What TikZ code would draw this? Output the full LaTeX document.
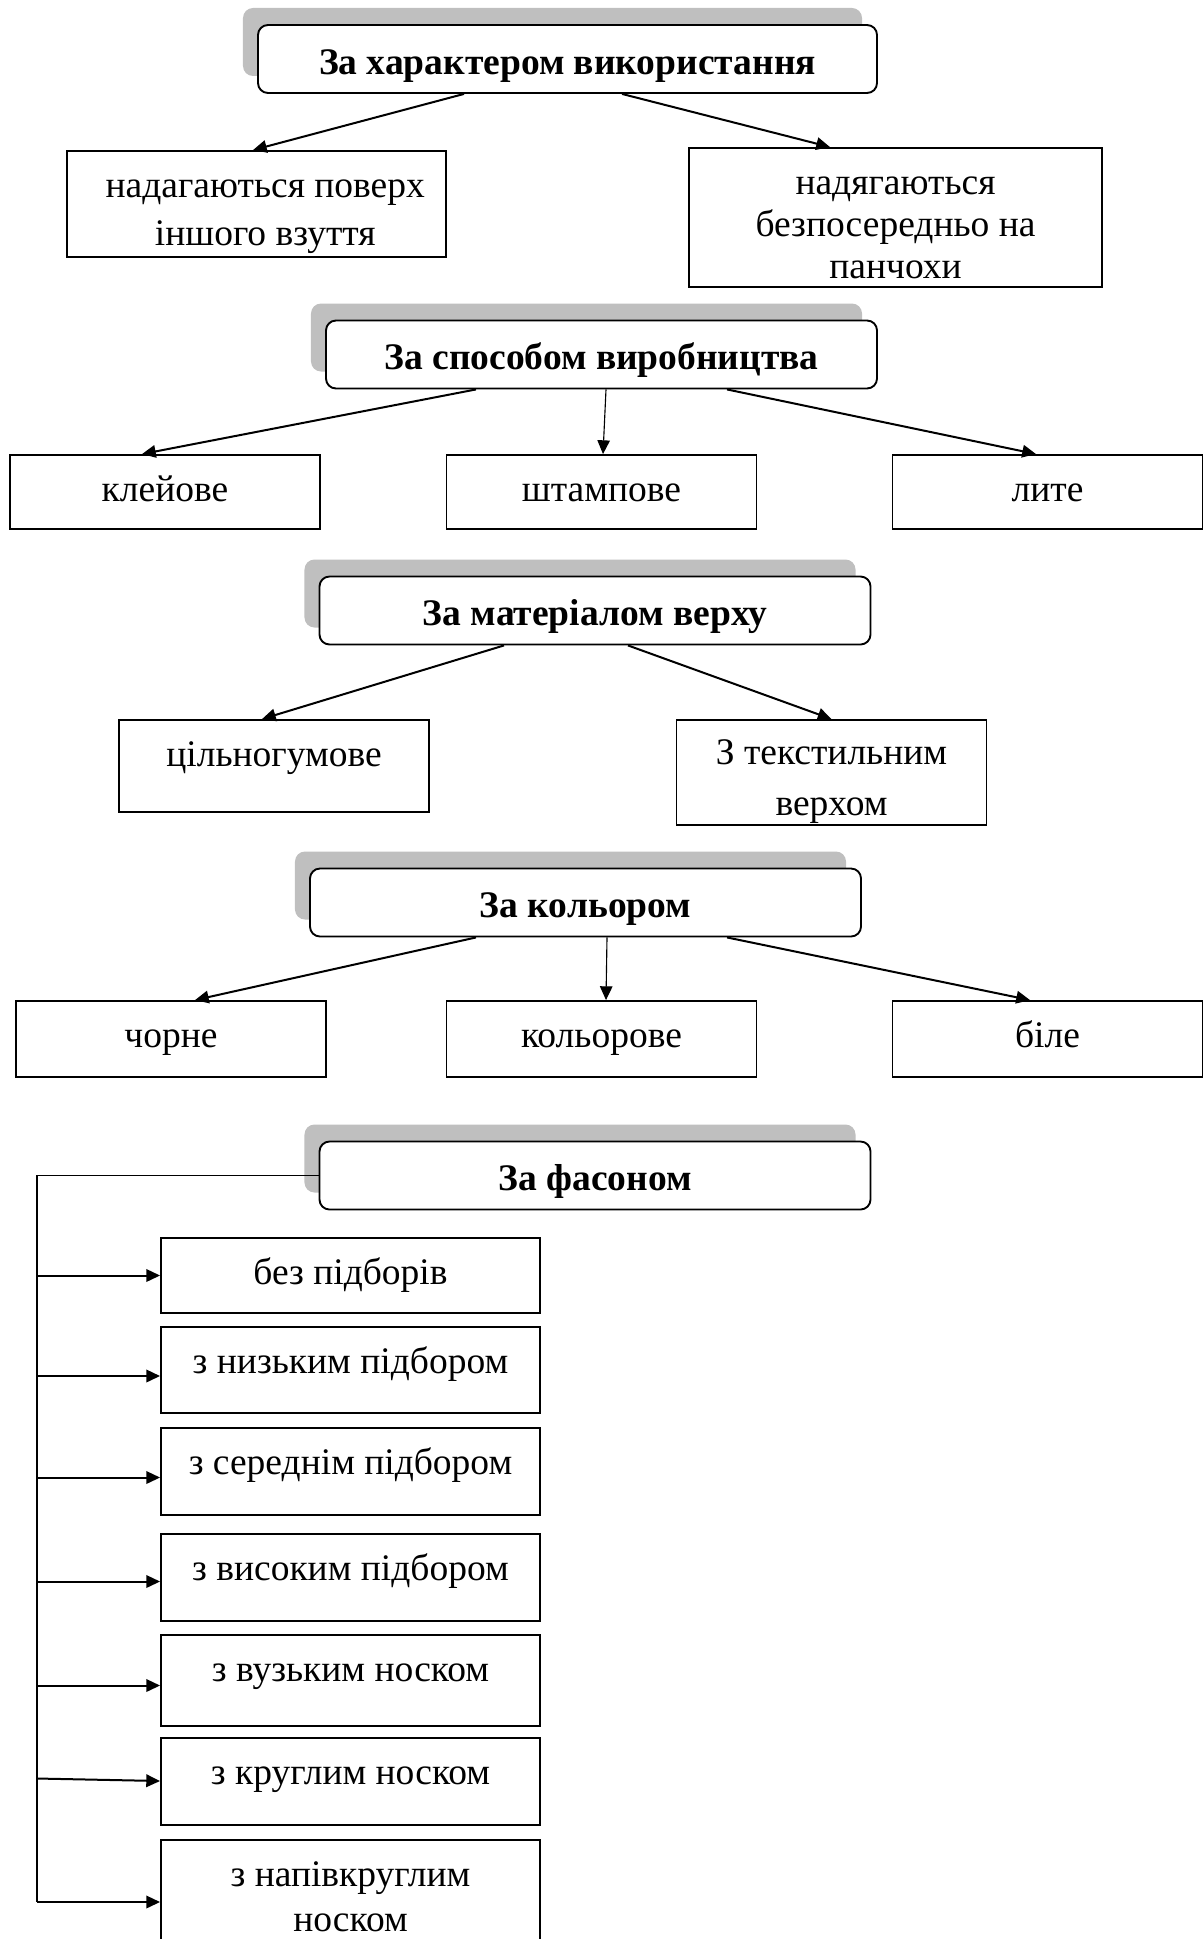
\documentclass[tikz,border=0pt]{standalone}
\usepackage{fontspec}
\setmainfont{Liberation Serif}
\usetikzlibrary{positioning, arrows.meta, shadows}

\begin{document}
\begin{tikzpicture}[
    x=0.4pt, y=-0.4pt,
    hblock/.style={rectangle, draw, rounded corners=4pt, fill=white, line width=0.75pt,
                   minimum width=220.4pt, inner ysep=0pt,
                   text height=19.7pt, text depth=7.5pt,
                   font=\fontsize{15}{18}\selectfont\bfseries,
                   drop shadow={shadow xshift=-6pt, shadow yshift=6.8pt,
                                fill=black!25, opacity=1}},
    block/.style={rectangle, draw, line width=0.75pt, fill=white,
                  minimum width=124pt, align=center, inner ysep=0pt,
                  text height=18.4pt, font=\fontsize{15}{18}\selectfont},
    arr/.style={-{Triangle[length=5.5pt, width=5pt]}, line width=0.8pt},
    tarr/.style={-{Triangle[length=5.5pt, width=5pt]}, line width=0.45pt},
]
\useasboundingbox (0,0) rectangle (1203,1939);

% за характером використання
\node[hblock, minimum width=247.6pt] (use) at (567.5,59) {За характером використання};
\node[block, minimum width=151.6pt, text height=37.7pt, text depth=4.7pt, font=\fontsize{15}{19.3}\selectfont] (over) at (256.5,204) {\hspace*{7pt}надагаються поверх\\\hspace*{7pt}іншого взуття};
\node[block, minimum width=165.2pt, text height=52pt, text depth=3.6pt, font=\fontsize{15}{16.8}\selectfont] (stock) at (895.5,217.5) {надягаються\\безпосередньо на\\панчохи};
\draw[arr] ([xshift=-41.4pt]use.south) -- ([xshift=-1.4pt]over.north);
\draw[arr] ([xshift=21.8pt]use.south) -- ([xshift=-26.2pt]stock.north);

% за способом виробництва
\node[hblock] (make) at (601.5,354.5) {За способом виробництва};
\node[block, text depth=11.2pt] (glue) at (165,492) {клейове};
\node[block, text depth=11.2pt] (stamp) at (601.5,492) {штампове};
\node[block, text depth=11.2pt] (cast) at (1047.5,492) {лите};
\draw[arr] ([xshift=-50.2pt]make.south) -- ([xshift=-9.2pt]glue.north);
\draw[tarr] ([xshift=1.8pt]make.south) -- ([xshift=0.6pt]stamp.north);
\draw[arr] ([xshift=50.2pt]make.south) -- ([xshift=-4.6pt]cast.north);

% за матеріалом верху
\node[hblock] (upper) at (595,610.5) {За матеріалом верху};
\node[block, text depth=18.4pt] (rubber) at (274,766) {цільногумове};
\node[block, text height=38.2pt, text depth=3.8pt, font=\fontsize{15}{20.3}\selectfont] (textile) at (831.5,772.5) {З текстильним\\верхом};
\draw[arr] ([xshift=-36.4pt]upper.south) -- ([xshift=-4.8pt]rubber.north);
\draw[arr] ([xshift=13.2pt]upper.south) -- (textile.north);

% за кольором
\node[hblock] (colour) at (585.5,902.5) {За кольором};
\node[block, text depth=12pt] (black) at (171,1039) {чорне};
\node[block, text depth=12pt] (coloured) at (601.5,1039) {кольорове};
\node[block, text depth=12pt] (white) at (1047.5,1039) {біле};
\draw[arr] ([xshift=-43.8pt]colour.south) -- ([xshift=9.6pt]black.north);
\draw[tarr] ([xshift=8.6pt]colour.south) -- ([xshift=1.8pt]coloured.north);
\draw[arr] ([xshift=56.6pt]colour.south) -- ([xshift=-7pt]white.north);

% за фасоном
\node[hblock] (style) at (595,1175.5) {За фасоном};
\node[block, minimum width=151.6pt, text depth=11.6pt] (noheel) at (350.5,1275.5) {без підборів};
\node[block, minimum width=151.6pt, text depth=16pt] (lowheel) at (350.5,1370) {з низьким підбором};
\node[block, minimum width=151.6pt, text depth=16.4pt] (midheel) at (350.5,1471.5) {з середнім підбором};
\node[block, minimum width=151.6pt, text depth=16.4pt] (highheel) at (350.5,1577.5) {з високим підбором};
\node[block, minimum width=151.6pt, text depth=18pt] (narrow) at (350.5,1680.5) {з вузьким носком};
\node[block, minimum width=151.6pt, text depth=16.4pt] (round) at (350.5,1781.5) {з круглим носком};
\node[block, minimum width=151.6pt, text height=36.7pt, text depth=11.3pt, font=\fontsize{15}{18.3}\selectfont] (halfround) at (350.5,1900) {з напівкруглим\\носком};
\coordinate (bus) at (37,1902);
\draw[line width=0.7pt] (style.west) -| (bus);
\draw[arr] (noheel.west -| bus) -- (noheel.west);
\draw[arr] ([yshift=-2.4pt]lowheel.west -| bus) -- ([yshift=-2.4pt]lowheel.west);
\draw[arr] ([yshift=-2.4pt]midheel.west -| bus) -- ([yshift=-2.4pt]midheel.west);
\draw[arr] ([yshift=-1.6pt]highheel.west -| bus) -- ([yshift=-1.6pt]highheel.west);
\draw[arr] ([yshift=-2pt]narrow.west -| bus) -- ([yshift=-2pt]narrow.west);
\draw[arr] ([yshift=1.2pt]round.west -| bus) -- ([yshift=0.2pt]round.west);
\draw[arr] (bus) -- (bus -| halfround.west);
\end{tikzpicture}
\end{document}
